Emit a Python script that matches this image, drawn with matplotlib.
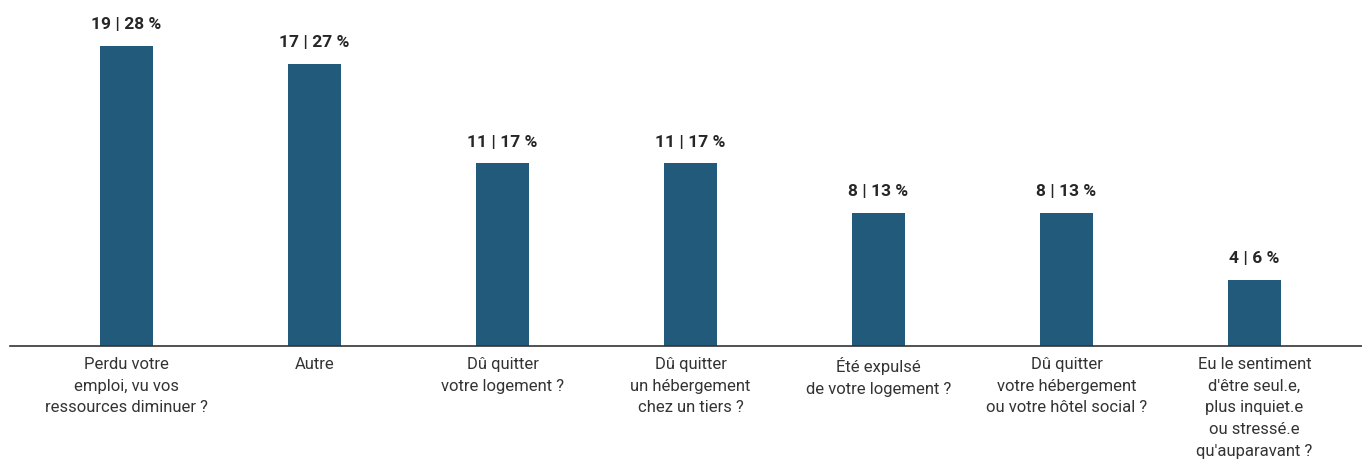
import matplotlib
matplotlib.use("Agg")
import matplotlib.pyplot as plt

# données
categories = [
    "Perdu votre\nemploi, vu vos\nressources diminuer ?",
    "Autre",
    "Dû quitter\nvotre logement ?",
    "Dû quitter\nun hébergement\nchez un tiers ?",
    "Été expulsé\nde votre logement ?",
    "Dû quitter\nvotre hébergement\nou votre hôtel social ?",
    "Eu le sentiment\nd'être seul.e,\nplus inquiet.e\nou stressé.e\nqu'auparavant ?",
]
counts = [19, 17, 11, 11, 8, 8, 4]
pct_labels = [28, 27, 17, 17, 13, 13, 6]
heights = [28.3, 26.6, 17.2, 17.2, 12.5, 12.5, 6.25]

BAR_COLOR = "#215a7b"
plt.rcParams["font.family"] = ["Roboto", "DejaVu Sans"]

fig = plt.figure(figsize=(13.62, 4.62), dpi=100)
ax = fig.add_axes([10 / 1362, 116 / 462, 1352 / 1362, 346 / 462])

x = list(range(len(categories)))
ax.bar(x, heights, width=0.28, color=BAR_COLOR)

for xi, h, c, p in zip(x, heights, counts, pct_labels):
    ax.annotate(f"{c} | {p} %", (xi, h), xytext=(0, 10), textcoords="offset points",
                ha="center", va="bottom", fontsize=12.5, fontweight="bold",
                color="#262626")

ax.set_xlim(-0.62, 6.572)
ax.set_ylim(0, 32.6)
ax.set_xticks(x)
ax.set_xticklabels(categories, fontsize=12, color="#333333", linespacing=1.55)
ax.tick_params(axis="x", length=0, pad=8)
ax.set_yticks([])
for s in ["top", "right", "left"]:
    ax.spines[s].set_visible(False)
ax.spines["bottom"].set_color("#333333")
ax.spines["bottom"].set_linewidth(1.2)

fig.savefig("out.png", dpi=100, facecolor="white")
